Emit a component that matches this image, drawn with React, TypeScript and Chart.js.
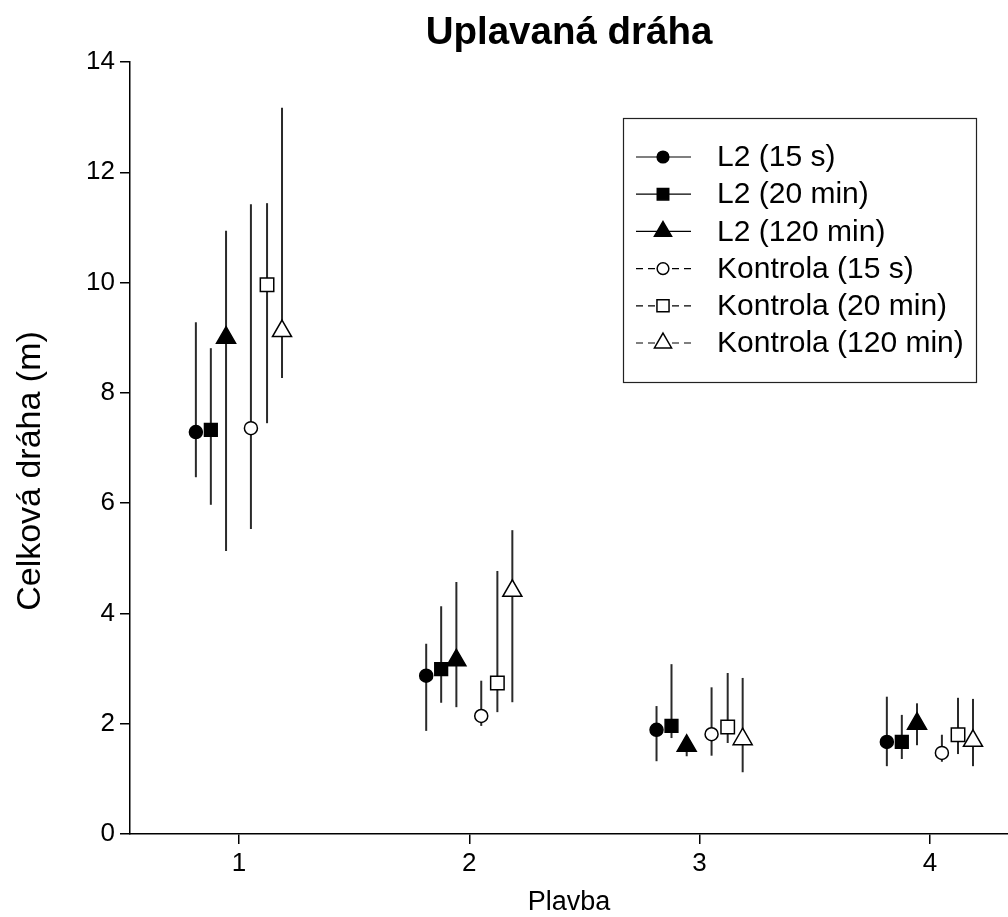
import React, { useEffect, useRef } from "react";
import { Chart, registerables } from "chart.js";

Chart.register(...registerables);

// ---- data ----
const categories = [1, 2, 3, 4];
const tickLabelsX = ["1", "2", "3", "4"];

const seriesLabels = [
  "L2 (15 s)",
  "L2 (20 min)",
  "L2 (120 min)",
  "Kontrola (15 s)",
  "Kontrola (20 min)",
  "Kontrola (120 min)",
];

const l2_15s_mean = [7.29, 2.87, 1.89, 1.67];
const l2_15s_low = [6.47, 1.87, 1.32, 1.23];
const l2_15s_high = [9.28, 3.45, 2.32, 2.49];

const l2_20min_mean = [7.33, 2.99, 1.96, 1.67];
const l2_20min_low = [5.97, 2.38, 1.74, 1.36];
const l2_20min_high = [8.81, 4.13, 3.08, 2.16];

const l2_120min_mean = [9.0, 3.15, 1.6, 2.0];
const l2_120min_low = [5.13, 2.3, 1.41, 1.61];
const l2_120min_high = [10.94, 4.57, 1.7, 2.37];

const k_15s_mean = [7.36, 2.14, 1.81, 1.47];
const k_15s_low = [5.53, 1.96, 1.42, 1.31];
const k_15s_high = [11.42, 2.78, 2.66, 1.8];

const k_20min_mean = [9.96, 2.74, 1.94, 1.8];
const k_20min_low = [7.45, 2.21, 1.65, 1.45];
const k_20min_high = [11.44, 4.77, 2.92, 2.47];

const k_120min_mean = [9.12, 4.41, 1.72, 1.69];
const k_120min_low = [8.27, 2.39, 1.12, 1.23];
const k_120min_high = [13.17, 5.51, 2.83, 2.45];

const means = [l2_15s_mean, l2_20min_mean, l2_120min_mean, k_15s_mean, k_20min_mean, k_120min_mean];
const lows = [l2_15s_low, l2_20min_low, l2_120min_low, k_15s_low, k_20min_low, k_120min_low];
const highs = [l2_15s_high, l2_20min_high, l2_120min_high, k_15s_high, k_20min_high, k_120min_high];

const yAxisTitle = "Celková dráha (m)";

// ---- styles / layout ----
const W = 1008;
const H = 917;
const dodge = [-0.187, -0.122, -0.056, 0.052, 0.122, 0.187];
const pointStyles = ["circle", "rect", "triangle", "circle", "rect", "triangle"];
const pointRadii = [6.5, 9, 11, 6.5, 9.5, 11];
const filled = [true, true, true, false, false, false];
const FONT = "'Liberation Sans', Arial, Helvetica, sans-serif";

function drawMarker(ctx: CanvasRenderingContext2D, style: string, r: number, x: number, y: number, fill: boolean) {
  ctx.save();
  ctx.setLineDash([]);
  ctx.beginPath();
  if (style === "circle") {
    ctx.arc(x, y, r, 0, Math.PI * 2);
  } else if (style === "rect") {
    const s = Math.SQRT1_2 * r;
    ctx.rect(x - s, y - s, 2 * s, 2 * s);
  } else {
    ctx.moveTo(x, y - r);
    ctx.lineTo(x + Math.sin((2 * Math.PI) / 3) * r, y + 0.5 * r);
    ctx.lineTo(x - Math.sin((2 * Math.PI) / 3) * r, y + 0.5 * r);
    ctx.closePath();
  }
  ctx.fillStyle = fill ? "#000" : "#fff";
  ctx.fill();
  ctx.lineWidth = 1.5;
  ctx.strokeStyle = "#000";
  ctx.stroke();
  ctx.restore();
}

const errorBarPlugin = {
  id: "errorBars",
  beforeDatasetsDraw(chart: any) {
    const { ctx } = chart;
    const yScale = chart.scales.y;
    ctx.save();
    ctx.strokeStyle = "#2a2a2a";
    ctx.lineWidth = 2;
    chart.data.datasets.forEach((ds: any, i: number) => {
      const meta = chart.getDatasetMeta(i);
      meta.data.forEach((pt: any, j: number) => {
        const y1 = yScale.getPixelForValue(ds.errLow[j]);
        const y2 = yScale.getPixelForValue(ds.errHigh[j]);
        ctx.beginPath();
        ctx.moveTo(pt.x, y1);
        ctx.lineTo(pt.x, y2);
        ctx.stroke();
      });
    });
    ctx.restore();
  },
};

const yTitlePlugin = {
  id: "yTitle",
  afterDraw(chart: any) {
    const { ctx } = chart;
    ctx.save();
    ctx.translate(31, 471);
    ctx.rotate(-Math.PI / 2);
    ctx.fillStyle = "#000";
    ctx.font = `34px ${FONT}`;
    ctx.textAlign = "center";
    ctx.textBaseline = "middle";
    ctx.fillText(yAxisTitle, 0, 0);
    ctx.restore();
  },
};

const legendPlugin = {
  id: "boxLegend",
  afterDraw(chart: any) {
    const { ctx } = chart;
    const bx = 623, by = 118, bw = 353, bh = 264;
    ctx.save();
    ctx.strokeStyle = "#222";
    ctx.lineWidth = 1.2;
    ctx.strokeRect(bx + 0.5, by + 0.5, bw, bh);
    chart.data.datasets.forEach((ds: any, i: number) => {
      const cy = 157 + i * 37.2;
      ctx.beginPath();
      ctx.strokeStyle = "#000";
      ctx.lineWidth = 1.2;
      ctx.setLineDash(filled[i] ? [] : [7, 5]);
      ctx.moveTo(636, cy);
      ctx.lineTo(691, cy);
      ctx.stroke();
      ctx.setLineDash([]);
      drawMarker(ctx, pointStyles[i], pointRadii[i] * 0.9, 663, cy, filled[i]);
      ctx.fillStyle = "#000";
      ctx.font = `30px ${FONT}`;
      ctx.textAlign = "left";
      ctx.textBaseline = "middle";
      ctx.fillText(ds.label, 717, cy + 1);
    });
    ctx.restore();
  },
};

export default function App() {
  const canvasRef = useRef<HTMLCanvasElement | null>(null);

  useEffect(() => {
    if (!canvasRef.current) return;
    const datasets = seriesLabels.map((label, k) => ({
      label,
      data: categories.map((c, j) => ({ x: c + dodge[k], y: means[k][j] })),
      errLow: lows[k],
      errHigh: highs[k],
      showLine: false,
      clip: false,
      pointStyle: pointStyles[k],
      pointRadius: pointRadii[k],
      pointHoverRadius: pointRadii[k],
      pointBackgroundColor: filled[k] ? "#000" : "#fff",
      pointBorderColor: "#000",
      pointBorderWidth: 1.5,
    }));

    const chart = new Chart(canvasRef.current, {
      type: "scatter",
      data: { datasets },
      plugins: [errorBarPlugin, legendPlugin, yTitlePlugin],
      options: {
        animation: false,
        responsive: false,
        maintainAspectRatio: false,
        devicePixelRatio: 1,
        layout: { padding: 0, autoPadding: false },
        plugins: {
          legend: { display: false },
          tooltip: { enabled: false },
          title: {
            display: true,
            text: "Uplavaná dráha",
            fullSize: false,
            color: "#000",
            font: { family: FONT, size: 38.5, weight: "bold" },
            padding: { top: 10, bottom: 5.8 },
          },
        },
        scales: {
          x: {
            type: "linear",
            min: 0.527,
            max: 4.339,
            afterBuildTicks: (scale: any) => {
              scale.ticks = categories.map((v) => ({ value: v }));
            },
            afterFit: (scale: any) => {
              scale.height = 83;
              scale.paddingLeft = 0;
              scale.paddingRight = 0;
            },
            ticks: {
              color: "#000",
              font: { family: FONT, size: 26 },
              padding: 4,
              callback: (v: any) => tickLabelsX[categories.indexOf(Number(v))] ?? "",
            },
            grid: { display: true, drawOnChartArea: false, drawTicks: true, tickLength: 10, color: "#000", lineWidth: 1.5 },
            border: { display: true, color: "#000", width: 1.5 },
            title: {
              display: true,
              text: "Plavba",
              color: "#000",
              font: { family: FONT, size: 27 },
              padding: { top: 0, bottom: -2 },
            },
          },
          y: {
            min: 0,
            max: 14,
            afterFit: (scale: any) => {
              scale.width = 130;
            },
            ticks: {
              stepSize: 2,
              color: "#000",
              font: { family: FONT, size: 26 },
              padding: 5,
            },
            grid: { display: true, drawOnChartArea: false, drawTicks: true, tickLength: 10, color: "#000", lineWidth: 1.5 },
            border: { display: true, color: "#000", width: 1.5 },
            title: { display: false },
          },
        },
      },
    } as any);

    return () => chart.destroy();
  }, []);

  return (
    <div
      style={{
        position: "fixed",
        left: 0,
        top: 0,
        width: W,
        height: H,
        overflow: "hidden",
        background: "#fff",
      }}
    >
      <canvas ref={canvasRef} width={W} height={H} style={{ display: "block", width: W, height: H }} />
    </div>
  );
}
